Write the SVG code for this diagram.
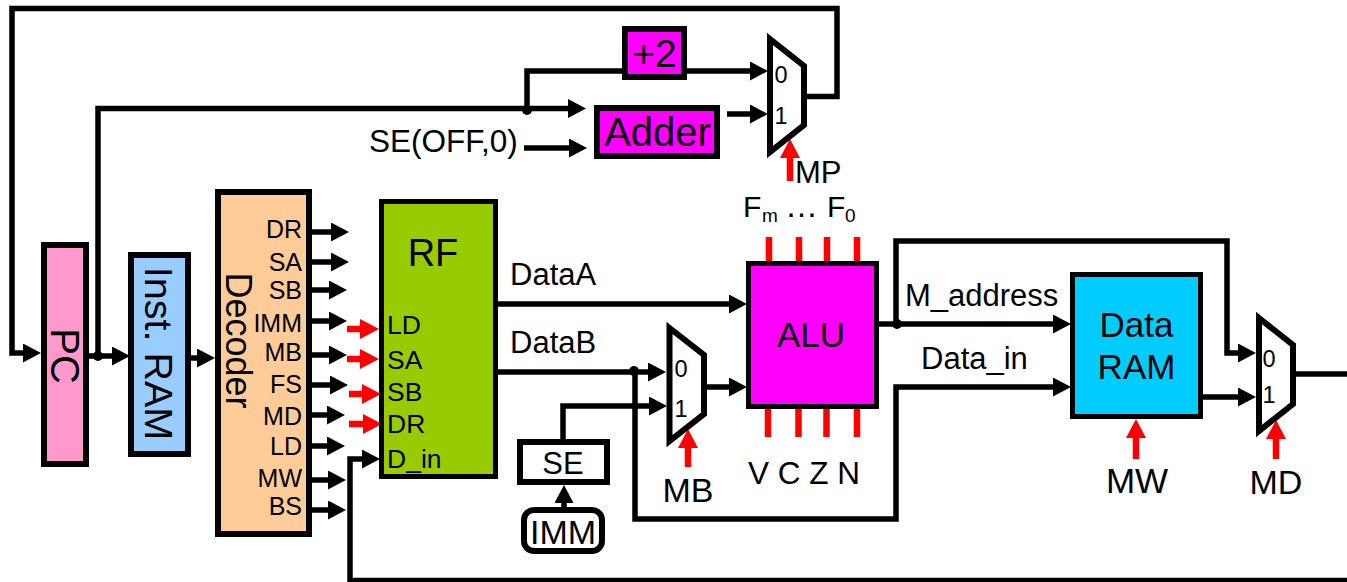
<svg xmlns="http://www.w3.org/2000/svg" width="1347" height="582" viewBox="0 0 1347 582">
<style>
text{font-family:"Liberation Sans",Arial,sans-serif;fill:#000}
.box{stroke:#000;stroke-width:6;stroke-linejoin:miter}
.thin{stroke-width:5}
.w{fill:none;stroke:#000;stroke-width:5.500;stroke-linejoin:miter}
.a{marker-end:url(#ah)}
.r{fill:none;stroke:#f00;stroke-width:6.500}
.ra{marker-end:url(#rh)}
.mux{fill:#fff;stroke:#000;stroke-width:6;stroke-linejoin:miter}
.dec{font-size:25px;text-anchor:end}
.rf{font-size:26.500px}
.lab{font-size:31px}
.ctl{font-size:34px;text-anchor:middle}
.m{font-size:23.500px;text-anchor:middle}
.mid{text-anchor:middle}
</style>
<defs>
<marker id="ah" markerUnits="userSpaceOnUse" viewBox="0 0 18 19" markerWidth="18" markerHeight="19" refX="2" refY="9.500" orient="auto"><polygon points="0,0 18,9.500 0,19" fill="#000"/></marker>
<marker id="rh" markerUnits="userSpaceOnUse" viewBox="0 0 19 20" markerWidth="19" markerHeight="20" refX="2" refY="10" orient="auto"><polygon points="0,0 19,10 0,20" fill="#f00"/></marker>
</defs>
<g id="connectors">
<path class="w a" d="M805 96.500H837V8.500H12V353H25"/>
<path class="w a" d="M89 356H114"/>
<path class="w a" d="M98 356V108.500H570"/>
<path class="w a" d="M527 108.500V71H752"/>
<path class="w a" d="M524 148H571"/>
<path class="w a" d="M727 114H752"/>
<path class="w a" d="M191 358H199"/>
<path class="w a" d="M312 232H333"/>
<path class="w a" d="M312 262H333"/>
<path class="w a" d="M312 290H331"/>
<path class="w a" d="M312 321H331"/>
<path class="w a" d="M312 355H331"/>
<path class="w a" d="M312 385H332"/>
<path class="w a" d="M312 415H329"/>
<path class="w a" d="M312 446H329"/>
<path class="w a" d="M312 480H330"/>
<path class="w a" d="M312 510H330"/>
<path class="w a" d="M1347 580.500H350V459H364"/>
<path class="w a" d="M498 304H731"/>
<path class="w a" d="M498 372H650"/>
<path class="w a" d="M635 372V519H896V387H1055"/>
<path class="w a" d="M707 387H731"/>
<path class="w a" d="M563 439V406H651"/>
<path class="w a" d="M564 507V501"/>
<path class="w a" d="M879 324H1055"/>
<path class="w a" d="M896 324V241H1227V353H1240"/>
<path class="w a" d="M1203 397H1240"/>
<path class="w" d="M1295 374H1347"/>
<circle cx="527" cy="110" r="5"/>
<circle cx="98" cy="356" r="5"/>
<circle cx="634" cy="371" r="5"/>
<circle cx="897" cy="324" r="5"/>
<path class="r ra" d="M347 329H362"/>
<path class="r ra" d="M347 359H362"/>
<path class="r ra" d="M349 394H364"/>
<path class="r ra" d="M349 424H365"/>
<path class="r ra" d="M790 181V156"/>
<path class="r ra" d="M688 467V446"/>
<path class="r ra" d="M1136 459V436"/>
<path class="r ra" d="M1276 459V437"/>
<path class="r" d="M769 237V261M799 237V261M827 237V261M857 237V261"/>
<path class="r" d="M768 409V437M798.500 409V437M826.500 409V437M857 409V437"/>
</g>
<g id="pc"><rect class="box" x="44" y="245" width="42" height="219" fill="#f9c"/><text transform="translate(51 356) rotate(90)" font-size="40" class="mid">PC</text></g>
<g id="inst-ram"><rect class="box" x="131" y="255" width="57" height="199" fill="#9cf"/><text transform="translate(145 353.500) rotate(90)" font-size="39.500" class="mid">Inst. RAM</text></g>
<g id="decoder"><rect class="box" x="218" y="192" width="91" height="342" fill="#fc9"/><text transform="translate(226 340.500) rotate(90)" font-size="36" class="mid">Decoder</text>
<text class="dec" x="302" y="238">DR</text><text class="dec" x="302" y="271">SA</text><text class="dec" x="302" y="299">SB</text><text class="dec" x="302" y="332">IMM</text><text class="dec" x="302" y="361">MB</text><text class="dec" x="302" y="393">FS</text><text class="dec" x="302" y="425">MD</text><text class="dec" x="302" y="455">LD</text><text class="dec" x="302" y="487">MW</text><text class="dec" x="302" y="515">BS</text></g>
<g id="rf"><rect class="box thin" x="381.500" y="201.500" width="114" height="275" fill="#9c0"/><text x="433" y="266" font-size="38" class="mid">RF</text>
<text class="rf" x="387" y="334">LD</text><text class="rf" x="387" y="369">SA</text><text class="rf" x="387" y="401">SB</text><text class="rf" x="387" y="433">DR</text><text class="rf" x="387" y="468">D_in</text></g>
<g id="alu"><rect class="box thin" x="748.500" y="263.500" width="128" height="143" fill="#f0f"/><text x="811" y="347" font-size="35" class="mid">ALU</text></g>
<g id="data-ram"><rect class="box thin" x="1072.500" y="274.500" width="128" height="142" fill="#0cf"/><text x="1136.500" y="337" font-size="35" class="mid">Data</text><text x="1136.500" y="379" font-size="35" class="mid">RAM</text></g>
<g id="plus2"><rect class="box" x="625" y="29" width="59" height="48" fill="#f0f"/><text x="654.500" y="67" font-size="39" class="mid">+2</text></g>
<g id="adder"><rect class="box" x="597" y="108" width="120" height="48" fill="#f0f"/><text x="657.500" y="146" font-size="40" class="mid">Adder</text></g>
<g id="se"><rect class="box" x="520" y="442" width="87" height="40" fill="#fff"/><text x="563" y="474" font-size="31" class="mid">SE</text></g>
<g id="imm"><rect class="box" x="524" y="510" width="78" height="41" rx="10" fill="#fff"/><text x="563" y="544" font-size="34" class="mid">IMM</text></g>
<g id="mux-mp"><polygon class="mux" points="770,39 804,66 804,125 770,152"/><text class="m" x="781" y="83">0</text><text class="m" x="781" y="124">1</text></g>
<g id="mux-mb"><polygon class="mux" points="669.500,328 704,355 704,414 669.500,441"/><text class="m" x="681" y="377">0</text><text class="m" x="681" y="417">1</text></g>
<g id="mux-md"><polygon class="mux" points="1259,318 1293,345 1293,404 1259,431"/><text class="m" x="1269" y="367">0</text><text class="m" x="1269" y="403">1</text></g>
<g id="labels">
<text x="369" y="152" font-size="31.500">SE(OFF,0)</text>
<text class="lab" x="510" y="285">DataA</text>
<text class="lab" x="510" y="353">DataB</text>
<text class="lab" x="905" y="306">M_address</text>
<text class="lab" x="921" y="369">Data_in</text>
<text x="795" y="183" font-size="31">MP</text>
<text x="743" y="217" font-size="30">F</text><text x="762" y="222" font-size="19">m</text><text x="785" y="217" font-size="33">…</text><text x="827" y="217" font-size="30">F</text><text x="845" y="222" font-size="19">0</text>
<text class="ctl" x="688" y="502">MB</text>
<text class="ctl" x="1137" y="493" style="font-size:35px">MW</text>
<text class="ctl" x="1276" y="494">MD</text>
<text x="748" y="484" font-size="31.500">V C Z N</text>
</g>
</svg>
